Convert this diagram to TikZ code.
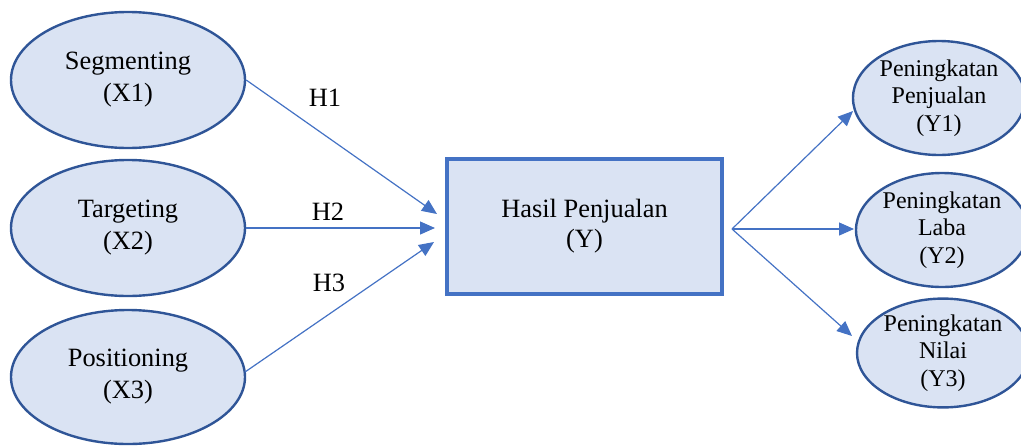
\documentclass[tikz,border=0pt]{standalone}
\usepackage{fontspec}
\setmainfont{Liberation Serif}
\usetikzlibrary{shapes.geometric,arrows.meta}
\definecolor{fillblue}{HTML}{DAE3F3}
\definecolor{edgeblue}{HTML}{2F5597}
\definecolor{lineblue}{HTML}{4472C4}
\tikzset{
  factor/.style={ellipse, draw=edgeblue, line width=1.2pt, fill=fillblue,
    inner sep=0pt, align=center, font=\fontsize{13.2}{16}\selectfont},
  indicator/.style={ellipse, draw=edgeblue, line width=1.2pt, fill=fillblue,
    inner sep=0pt, align=center, font=\fontsize{12}{13.8}\selectfont},
  mainbox/.style={rectangle, draw=lineblue, line width=2pt, fill=fillblue,
    inner sep=0pt, align=center, font=\fontsize{13.2}{15}\selectfont},
  link/.style={draw=lineblue, line width=0.6pt,
    -{Triangle[length=7.5pt,width=6.5pt]}},
  hyp/.style={font=\fontsize{13.2}{15}\selectfont}
}
\begin{document}
\begin{tikzpicture}[x=0.5pt,y=-0.5pt]
\useasboundingbox (0,0) rectangle (1021,445);

% exogenous factors
\node[factor, minimum width=117pt, minimum height=68pt] (x1) at (128,80) {Segmenting\\(X1)};
\node[factor, minimum width=117pt, minimum height=68pt] (x2) at (128,228) {Targeting\\(X2)};
\node[factor, minimum width=117pt, minimum height=67pt] (x3) at (128,377) {Positioning\\(X3)};

% central construct
\node[mainbox, minimum width=137.5pt, minimum height=67.5pt] (y) at (584.5,226.5) {Hasil Penjualan\\(Y)};

% indicators
\node[indicator, minimum width=86pt, minimum height=57pt] (y1) at (939,98) {Peningkatan\\Penjualan\\(Y1)};
\node[indicator, minimum width=86pt, minimum height=57pt] (y2) at (942,230) {Peningkatan\\Laba\\(Y2)};
\node[indicator, minimum width=86pt, minimum height=54pt] (y3) at (943,353) {Peningkatan\\Nilai\\(Y3)};

% arrow tips and fan origin
\coordinate (t1) at (437,214);
\coordinate (t2) at (435,228);
\coordinate (t3) at (434,242);
\coordinate (s3) at (245,372);
\coordinate (fan) at (732,229);
\coordinate (u1) at (853,111);
\coordinate (u2) at (854,229);
\coordinate (u3) at (852,336);

% hypothesised paths
\draw[link] (x1.east) -- (t1);
\draw[link] (x2.east) -- (t2);
\draw[link] (s3) -- (t3);

\node[hyp] (h1) at (325,98) {H1};
\node[hyp] (h2) at (328,212) {H2};
\node[hyp] (h3) at (329,283) {H3};

% reflective indicators
\draw[link] (fan) -- (u1);
\draw[link] (fan) -- (u2);
\draw[link] (fan) -- (u3);
\end{tikzpicture}
\end{document}
